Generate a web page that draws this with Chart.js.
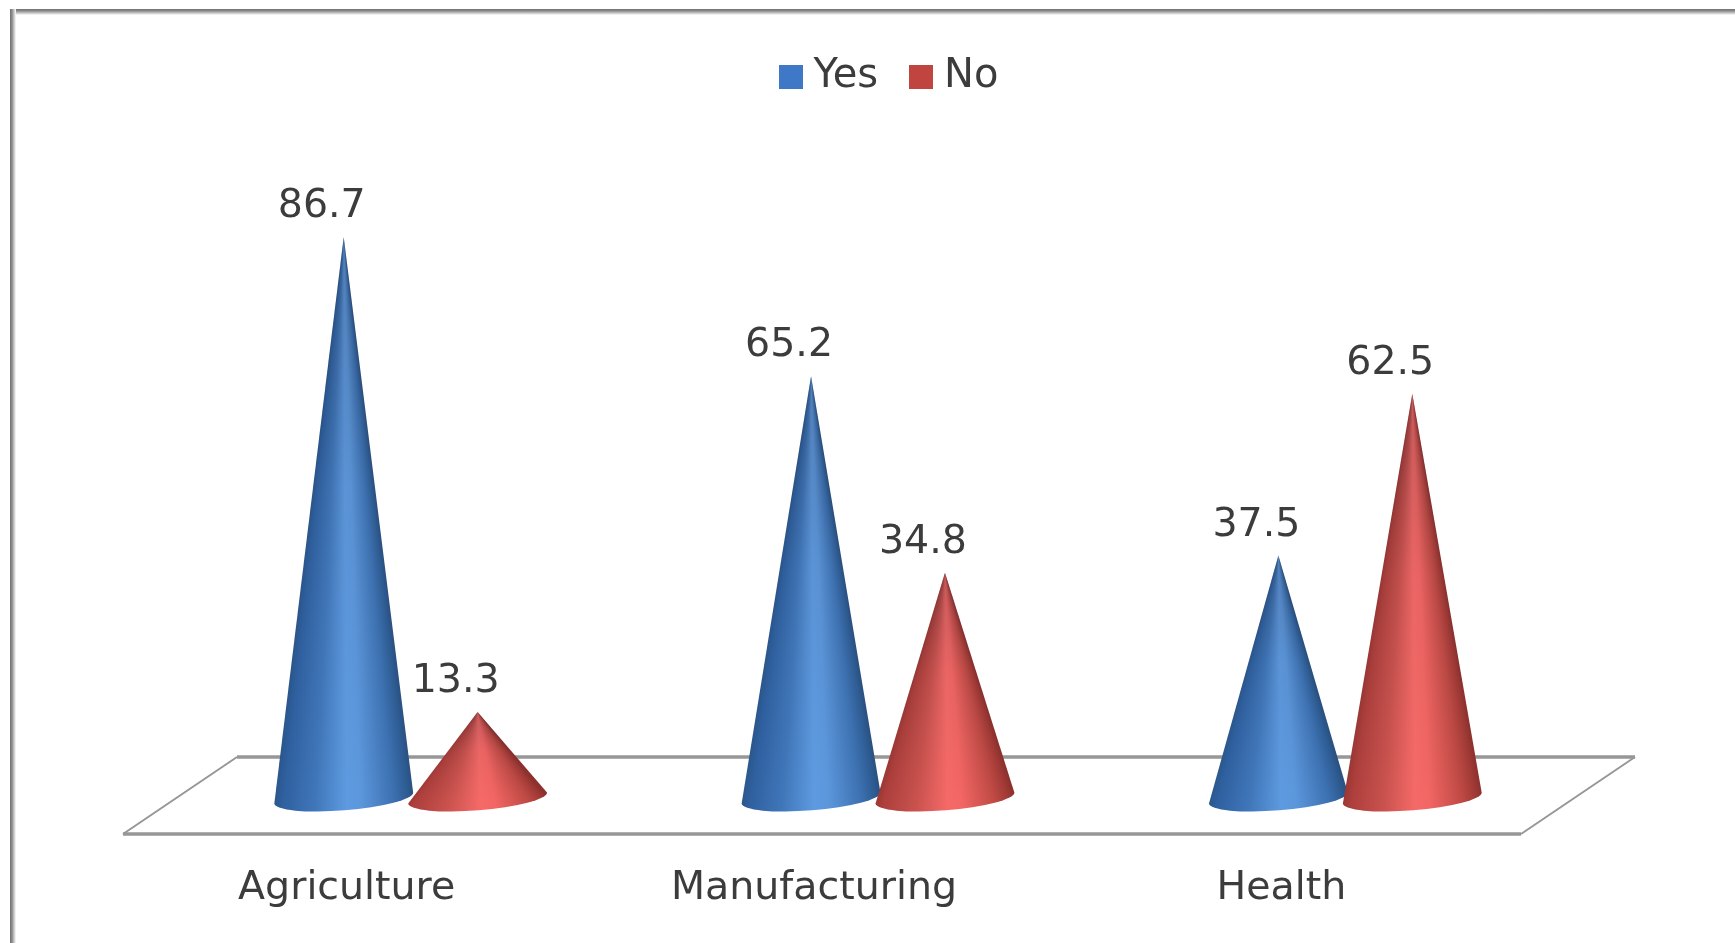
<!DOCTYPE html>
<html>
<head>
<meta charset="utf-8">
<title>Yes / No by sector</title>
<script src="https://cdn.jsdelivr.net/npm/chart.js@4/dist/chart.umd.min.js"></script>
<style>
    html, body { margin: 0; padding: 0; background: #fff; }
    #wrap { position: relative; width: 1735px; height: 943px; overflow: hidden; }
    #chartCones { position: absolute; left: 0; top: 0; }
    .edge { position: absolute; }
    .edge.top { left: 10px; top: 9px; right: 0; height: 6px; background: linear-gradient(to bottom, #6f6f6f, #8f8f8f 35%, #fff); }
    .edge.left { left: 10px; top: 9px; bottom: 0; width: 6px; background: linear-gradient(to right, #6f6f6f, #8f8f8f 35%, #fff); }
</style>
</head>
<body>
<div id="wrap">
    <canvas id="chartCones" width="1735" height="943"></canvas>
    <div class="edge top"></div>
    <div class="edge left"></div>
</div>
<script>
const categories = ['Agriculture', 'Manufacturing', 'Health'];
const yesValues = [86.7, 65.2, 37.5];
const noValues = [13.3, 34.8, 62.5];

const textFont = '"DejaVu Sans"';
const textColor = '#3c3c3c';

const blueStops = [[0, '#2a5689'], [0.07, '#2f60a0'], [0.3, '#4077ba'], [0.52, '#5e9ae0'], [0.62, '#5c97dc'], [0.85, '#3d72b3'], [0.95, '#2f5e96'], [1, '#2a5283']];
const redStops = [[0, '#983633'], [0.07, '#ad3f3c'], [0.3, '#c9524e'], [0.52, '#f56a68'], [0.62, '#f26664'], [0.85, '#c04a45'], [0.95, '#a23a36'], [1, '#8e312e']];

function makeSwatch(color) {
    const c = document.createElement('canvas');
    c.width = 24;
    c.height = 24;
    const g = c.getContext('2d');
    g.fillStyle = color;
    g.fillRect(0, 0, 24, 24);
    return c;
}

// shading runs around the tip, so the bands narrow as the cone does
function coneGradient(ctx, bar, a, stops) {
    const angleOf = t => Math.atan2(bar.base - bar.y, bar.x - a + 2 * a * t - bar.x);
    const start = angleOf(1) - 0.1;
    const grad = ctx.createConicGradient(start, bar.x, bar.y);
    stops.slice().reverse().forEach(s => {
        grad.addColorStop((angleOf(s[0]) - start) / (2 * Math.PI), s[1]);
    });
    return grad;
}

function drawCone(ctx, bar, stops) {
    const a = bar.width * 0.52;
    const b = 12.4;
    const tilt = -0.08;
    const outline = () => {
        ctx.beginPath();
        ctx.moveTo(bar.x, bar.y);
        ctx.ellipse(bar.x, bar.base, a, b, tilt, 0, Math.PI);
        ctx.closePath();
    };
    outline();
    ctx.fillStyle = coneGradient(ctx, bar, a, stops);
    ctx.fill();
    // a little darker toward the tip
    const fade = ctx.createLinearGradient(0, bar.y, 0, bar.base);
    fade.addColorStop(0, 'rgba(30,30,40,0.22)');
    fade.addColorStop(0.45, 'rgba(30,30,40,0.05)');
    fade.addColorStop(1, 'rgba(30,30,40,0)');
    outline();
    ctx.fillStyle = fade;
    ctx.fill();
}

const coneScene = {
    id: 'coneScene',
    beforeLayout(chart) {
        const legend = chart.legend;
        if (legend && !legend.wideFit) {
            const fit = legend.fit;
            legend.fit = function () {
                fit.call(this);
                this.height += 44;
            };
            legend.wideFit = true;
        }
    },
    afterLayout(chart) {
        // legend sits a little right of the canvas centre
        chart.legend.left += 15;
        chart.legend.right += 15;
    },
    beforeDatasetsDraw(chart) {
        const ctx = chart.ctx;
        const area = chart.chartArea;
        const y0 = chart.scales.y.getPixelForValue(0);

        // floor plane: long edges heavier than the slanted ones
        ctx.save();
        ctx.strokeStyle = '#979797';
        ctx.lineWidth = 2;
        ctx.beginPath();
        ctx.moveTo(area.left + 60, y0 - 41);
        ctx.lineTo(area.left - 54, y0 + 36);
        ctx.moveTo(area.right + 56, y0 - 41);
        ctx.lineTo(area.right - 58, y0 + 36);
        ctx.stroke();
        ctx.lineWidth = 3.5;
        ctx.beginPath();
        ctx.moveTo(area.left + 60, y0 - 41);
        ctx.lineTo(area.right + 56, y0 - 41);
        ctx.moveTo(area.left - 54, y0 + 36);
        ctx.lineTo(area.right - 58, y0 + 36);
        ctx.stroke();
        ctx.restore();

        // cones and their value labels replace the plain bars
        ctx.save();
        const stopSets = [blueStops, redStops];
        for (let col = 0; col < categories.length; col++) {
            chart.data.datasets.forEach((ds, d) => {
                const bar = chart.getDatasetMeta(d).data[col];
                drawCone(ctx, bar, stopSets[d]);
            });
        }
        ctx.font = '39.5px ' + textFont;
        ctx.fillStyle = textColor;
        ctx.textAlign = 'center';
        ctx.textBaseline = 'middle';
        chart.data.datasets.forEach((ds, d) => {
            chart.getDatasetMeta(d).data.forEach((bar, i) => {
                ctx.fillText(ds.data[i].toFixed(1), bar.x - 22, bar.y - 30);
            });
        });
        ctx.restore();
        return false;
    }
};

const canvas = document.getElementById('chartCones');
const legendColors = ['#3f78c6', '#c0443f'];

new Chart(canvas, {
    type: 'bar',
    data: {
        labels: categories,
        datasets: [
            { label: 'Yes', data: yesValues, backgroundColor: legendColors[0], categoryPercentage: 0.573, barPercentage: 1 },
            { label: 'No', data: noValues, backgroundColor: legendColors[1], categoryPercentage: 0.573, barPercentage: 1 }
        ]
    },
    options: {
        responsive: false,
        animation: false,
        layout: { padding: { left: 177, right: 156, top: 17, bottom: 0 } },
        plugins: {
            tooltip: { enabled: false },
            legend: {
                position: 'top',
                labels: {
                    usePointStyle: true,
                    pointStyleWidth: 6,
                    padding: 40,
                    color: textColor,
                    font: { family: textFont, size: 40 },
                    generateLabels: chart => chart.data.datasets.map((ds, i) => ({
                        text: ds.label,
                        datasetIndex: i,
                        pointStyle: makeSwatch(legendColors[i]),
                        fontColor: textColor,
                        lineWidth: 0
                    }))
                }
            }
        },
        scales: {
            y: { display: false, min: 0, max: 100 },
            x: {
                grid: { display: false },
                border: { display: false },
                afterFit: scale => { scale.height = 145; },
                ticks: {
                    color: textColor,
                    font: { family: textFont, size: 39.5 },
                    padding: 59,
                    labelOffset: -64,
                    maxRotation: 0,
                    autoSkip: false
                }
            }
        }
    },
    plugins: [coneScene]
});
</script>
</body>
</html>
